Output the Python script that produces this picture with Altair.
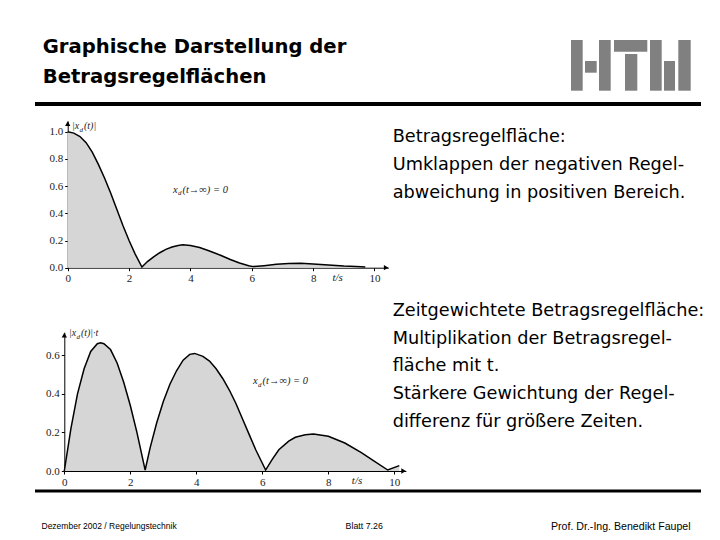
import altair as alt
import pandas as pd

# ---------------- data ----------------
t1 = [0, 0.2, 0.4, 0.6, 0.8, 1.0, 1.2, 1.4, 1.6, 1.8, 2.0, 2.2, 2.42, 2.6, 2.8,
      3.0, 3.2, 3.4, 3.6, 3.75, 4.0, 4.3, 4.6, 5.0, 5.3, 5.6, 5.9, 6.05, 6.4,
      6.8, 7.2, 7.6, 8.0, 8.5, 9.0, 9.4, 9.7]
v1 = [1.0, 0.99, 0.965, 0.92, 0.85, 0.76, 0.66, 0.55, 0.43, 0.31, 0.2, 0.1,
      0.005, 0.045, 0.08, 0.11, 0.135, 0.152, 0.164, 0.168, 0.163, 0.148,
      0.125, 0.09, 0.06, 0.035, 0.015, 0.008, 0.015, 0.025, 0.031, 0.032,
      0.028, 0.02, 0.012, 0.008, 0.006]

t2 = [0, 0.2, 0.4, 0.6, 0.8, 1.0, 1.1, 1.2, 1.4, 1.6, 1.8, 2.0, 2.2, 2.45,
      2.6, 2.8, 3.0, 3.2, 3.4, 3.6, 3.8, 3.95, 4.2, 4.4, 4.6, 4.8, 5.0, 5.2,
      5.4, 5.6, 5.8, 6.0, 6.1, 6.3, 6.5, 6.8, 7.0, 7.3, 7.55, 8.0, 8.5, 9.0,
      9.4, 9.8, 10.15]
v2 = [0, 0.22, 0.4, 0.53, 0.62, 0.66, 0.665, 0.66, 0.63, 0.56, 0.46, 0.34,
      0.2, 0.005, 0.12, 0.25, 0.36, 0.45, 0.52, 0.575, 0.605, 0.61, 0.595,
      0.57, 0.53, 0.48, 0.42, 0.35, 0.27, 0.19, 0.11, 0.04, 0.005, 0.06, 0.11,
      0.155, 0.175, 0.188, 0.192, 0.18, 0.145, 0.095, 0.05, 0.005, 0.028]

x_ticks = [0, 2, 4, 6, 8, 10]
y1_ticks = [0.0, 0.2, 0.4, 0.6, 0.8, 1.0]
y2_ticks = [0.0, 0.2, 0.4, 0.6]

title_lines = ["Graphische Darstellung der", "Betragsregelflächen"]
text1_lines = ["Betragsregelfläche:", "Umklappen der negativen Regel-",
               "abweichung in positiven Bereich."]
text2_lines = ["Zeitgewichtete Betragsregelfläche:", "Multiplikation der Betragsregel-",
               "fläche mit t.", "Stärkere Gewichtung der Regel-",
               "differenz für größere Zeiten."]
footer_left = "Dezember 2002 / Regelungstechnik"
footer_mid = "Blatt 7.26"
footer_right = "Prof. Dr.-Ing. Benedikt Faupel"

W, H = 704, 524
one = pd.DataFrame({"k": [0]})
df1 = pd.DataFrame({"t": t1, "v": v1})
df2 = pd.DataFrame({"t": t2, "v": v2})

SERIF = "Liberation Serif"
SLIDE_FONT = "DejaVu Sans"


def axis(orient, offset, values, fmt):
    return alt.Axis(orient=orient, offset=offset, values=values, format=fmt,
                    grid=False, title="", tickSize=3, labelPadding=2,
                    labelFont=SERIF, labelFontSize=11, labelColor="#222222",
                    domainColor="#000000", tickColor="#000000", domainWidth=1,
                    labelFlush=False, labelOverlap=False)


def plot(df, xs, ys, ax_x, ax_y, arrow_x, arrow_y, ylab, ann_x, ann_y, ts_x,
         ylab_x, ylab_y):
    X = alt.X("t:Q", scale=xs, axis=ax_x)
    Y = alt.Y("v:Q", scale=ys, axis=ax_y)
    base = alt.Chart(df)
    area = base.mark_area(color="#d6d6d6", interpolate="linear").encode(x=X, y=Y)
    line = base.mark_line(color="#000000", strokeWidth=1.5,
                          interpolate="linear").encode(x=X, y=Y)

    def dx_(v):
        return alt.XDatum(v, scale=xs, axis=ax_x)

    def dy_(v):
        return alt.YDatum(v, scale=ys, axis=ax_y)

    c1 = alt.Chart(one)
    arr_r = c1.mark_point(shape="triangle-right", filled=True, size=28,
                          color="#000000", opacity=1).encode(x=dx_(arrow_x), y=dy_(0))
    arr_u = c1.mark_point(shape="triangle-up", filled=True, size=28,
                          color="#000000", opacity=1).encode(x=dx_(0), y=dy_(arrow_y))
    it = dict(font=SERIF, fontStyle="italic", color="#222222", align="left",
              baseline="alphabetic")
    lab_a = c1.mark_text(fontSize=10, **it).encode(
        x=dx_(ylab_x), y=dy_(ylab_y), text=alt.value("|x"))
    lab_b = c1.mark_text(fontSize=7, dx=7.5, dy=2.5, **it).encode(
        x=dx_(ylab_x), y=dy_(ylab_y), text=alt.value("d"))
    lab_c = c1.mark_text(fontSize=10, dx=12, **it).encode(
        x=dx_(ylab_x), y=dy_(ylab_y), text=alt.value(ylab))
    an_a = c1.mark_text(fontSize=10.5, **it).encode(
        x=dx_(ann_x), y=dy_(ann_y), text=alt.value("x"))
    an_b = c1.mark_text(fontSize=7, dx=5, dy=2.5, **it).encode(
        x=dx_(ann_x), y=dy_(ann_y), text=alt.value("d"))
    an_c = c1.mark_text(fontSize=10.5, dx=9.5, **it).encode(
        x=dx_(ann_x), y=dy_(ann_y), text=alt.value(" (t→∞) = 0"))
    ts = c1.mark_text(fontSize=11, dy=13, font=SERIF, fontStyle="italic",
                      color="#222222", align="center", baseline="alphabetic").encode(
        x=dx_(ts_x), y=dy_(0), text=alt.value("t/s"))
    return alt.layer(area, line, arr_r, arr_u, lab_a, lab_b, lab_c,
                     an_a, an_b, an_c, ts)


# plot 1 (page coords minus 8px margin)
xs1 = alt.Scale(domain=[0, 10.45], range=[59.7, 380.3], nice=False, zero=False)
ys1 = alt.Scale(domain=[0, 1.08], range=[259.7, 112.9], nice=False, zero=False)
p1 = plot(df1, xs1, ys1,
          axis("bottom", 259.7 - H, x_ticks, "d"),
          axis("left", -59.7, y1_ticks, ".1f"),
          10.38, 1.06, "(t)|", 3.43, 0.55, 8.8, 0.14, 1.02)

xs2 = alt.Scale(domain=[0, 10.35], range=[56.3, 397.9], nice=False, zero=False)
ys2 = alt.Scale(domain=[0, 0.72], range=[463.0, 324.2], nice=False, zero=False)
p2 = plot(df2, xs2, ys2,
          axis("bottom", 463.0 - H, x_ticks, "d"),
          axis("left", -56.3, y2_ticks, ".1f"),
          10.28, 0.705, "(t)|·t", 5.72, 0.45, 8.87, 0.14, 0.70)

# ---------------- slide decoration ----------------
c = alt.Chart(one)
title = c.mark_text(font=SLIDE_FONT, fontSize=19.6, fontWeight="bold", align="left",
                    baseline="alphabetic", lineHeight=30, color="#000000").encode(
    x=alt.value(34.7), y=alt.value(45.3), text=alt.value(title_lines))
txt1 = c.mark_text(font=SLIDE_FONT, fontSize=17.7, align="left", baseline="alphabetic",
                   lineHeight=28, color="#000000").encode(
    x=alt.value(384.7), y=alt.value(134.3), text=alt.value(text1_lines))
txt2 = c.mark_text(font=SLIDE_FONT, fontSize=17.7, align="left", baseline="alphabetic",
                   lineHeight=27.9, color="#000000").encode(
    x=alt.value(384.7), y=alt.value(307.7), text=alt.value(text2_lines))
f1 = c.mark_text(font="Liberation Sans", fontSize=8.5, align="left",
                 baseline="alphabetic", color="#000000").encode(
    x=alt.value(33.5), y=alt.value(521), text=alt.value(footer_left))
f2 = c.mark_text(font="Liberation Sans", fontSize=8.8, align="left",
                 baseline="alphabetic", color="#000000").encode(
    x=alt.value(337.6), y=alt.value(521), text=alt.value(footer_mid))
f3 = c.mark_text(font="Liberation Sans", fontSize=10.6, align="left",
                 baseline="alphabetic", color="#000000").encode(
    x=alt.value(543), y=alt.value(522), text=alt.value(footer_right))
rule_top = c.mark_rule(color="#000000", strokeWidth=4).encode(
    x=alt.value(27), x2=alt.value(693), y=alt.value(96))
rule_bot = c.mark_rule(color="#000000", strokeWidth=3).encode(
    x=alt.value(27), x2=alt.value(693), y=alt.value(483))

logo_boxes = []
for (xa, ya, xb, yb) in [(563, 32, 574.7, 82.7), (577, 53, 588.7, 64.7),
                         (591, 32, 602.7, 82.7), (606, 32, 639.3, 43.7),
                         (617, 46, 629.3, 82.7), (642, 32, 653.7, 82.7),
                         (656, 53, 667, 82.7), (670.3, 32, 682.7, 82.7)]:
    logo_boxes.append(c.mark_rect(color="#808080").encode(
        x=alt.value(xa), x2=alt.value(xb), y=alt.value(ya), y2=alt.value(yb)))

deco = alt.layer(title, txt1, txt2, f1, f2, f3, rule_top, rule_bot, *logo_boxes)

chart = alt.layer(p1, p2, deco).resolve_scale(
    x="independent", y="independent").properties(
    width=W, height=H, padding=0,
    autosize=alt.AutoSizeParams(type="none")).configure_view(strokeWidth=0)

chart.save("out.html", embed_options={"renderer": "svg", "actions": False})
